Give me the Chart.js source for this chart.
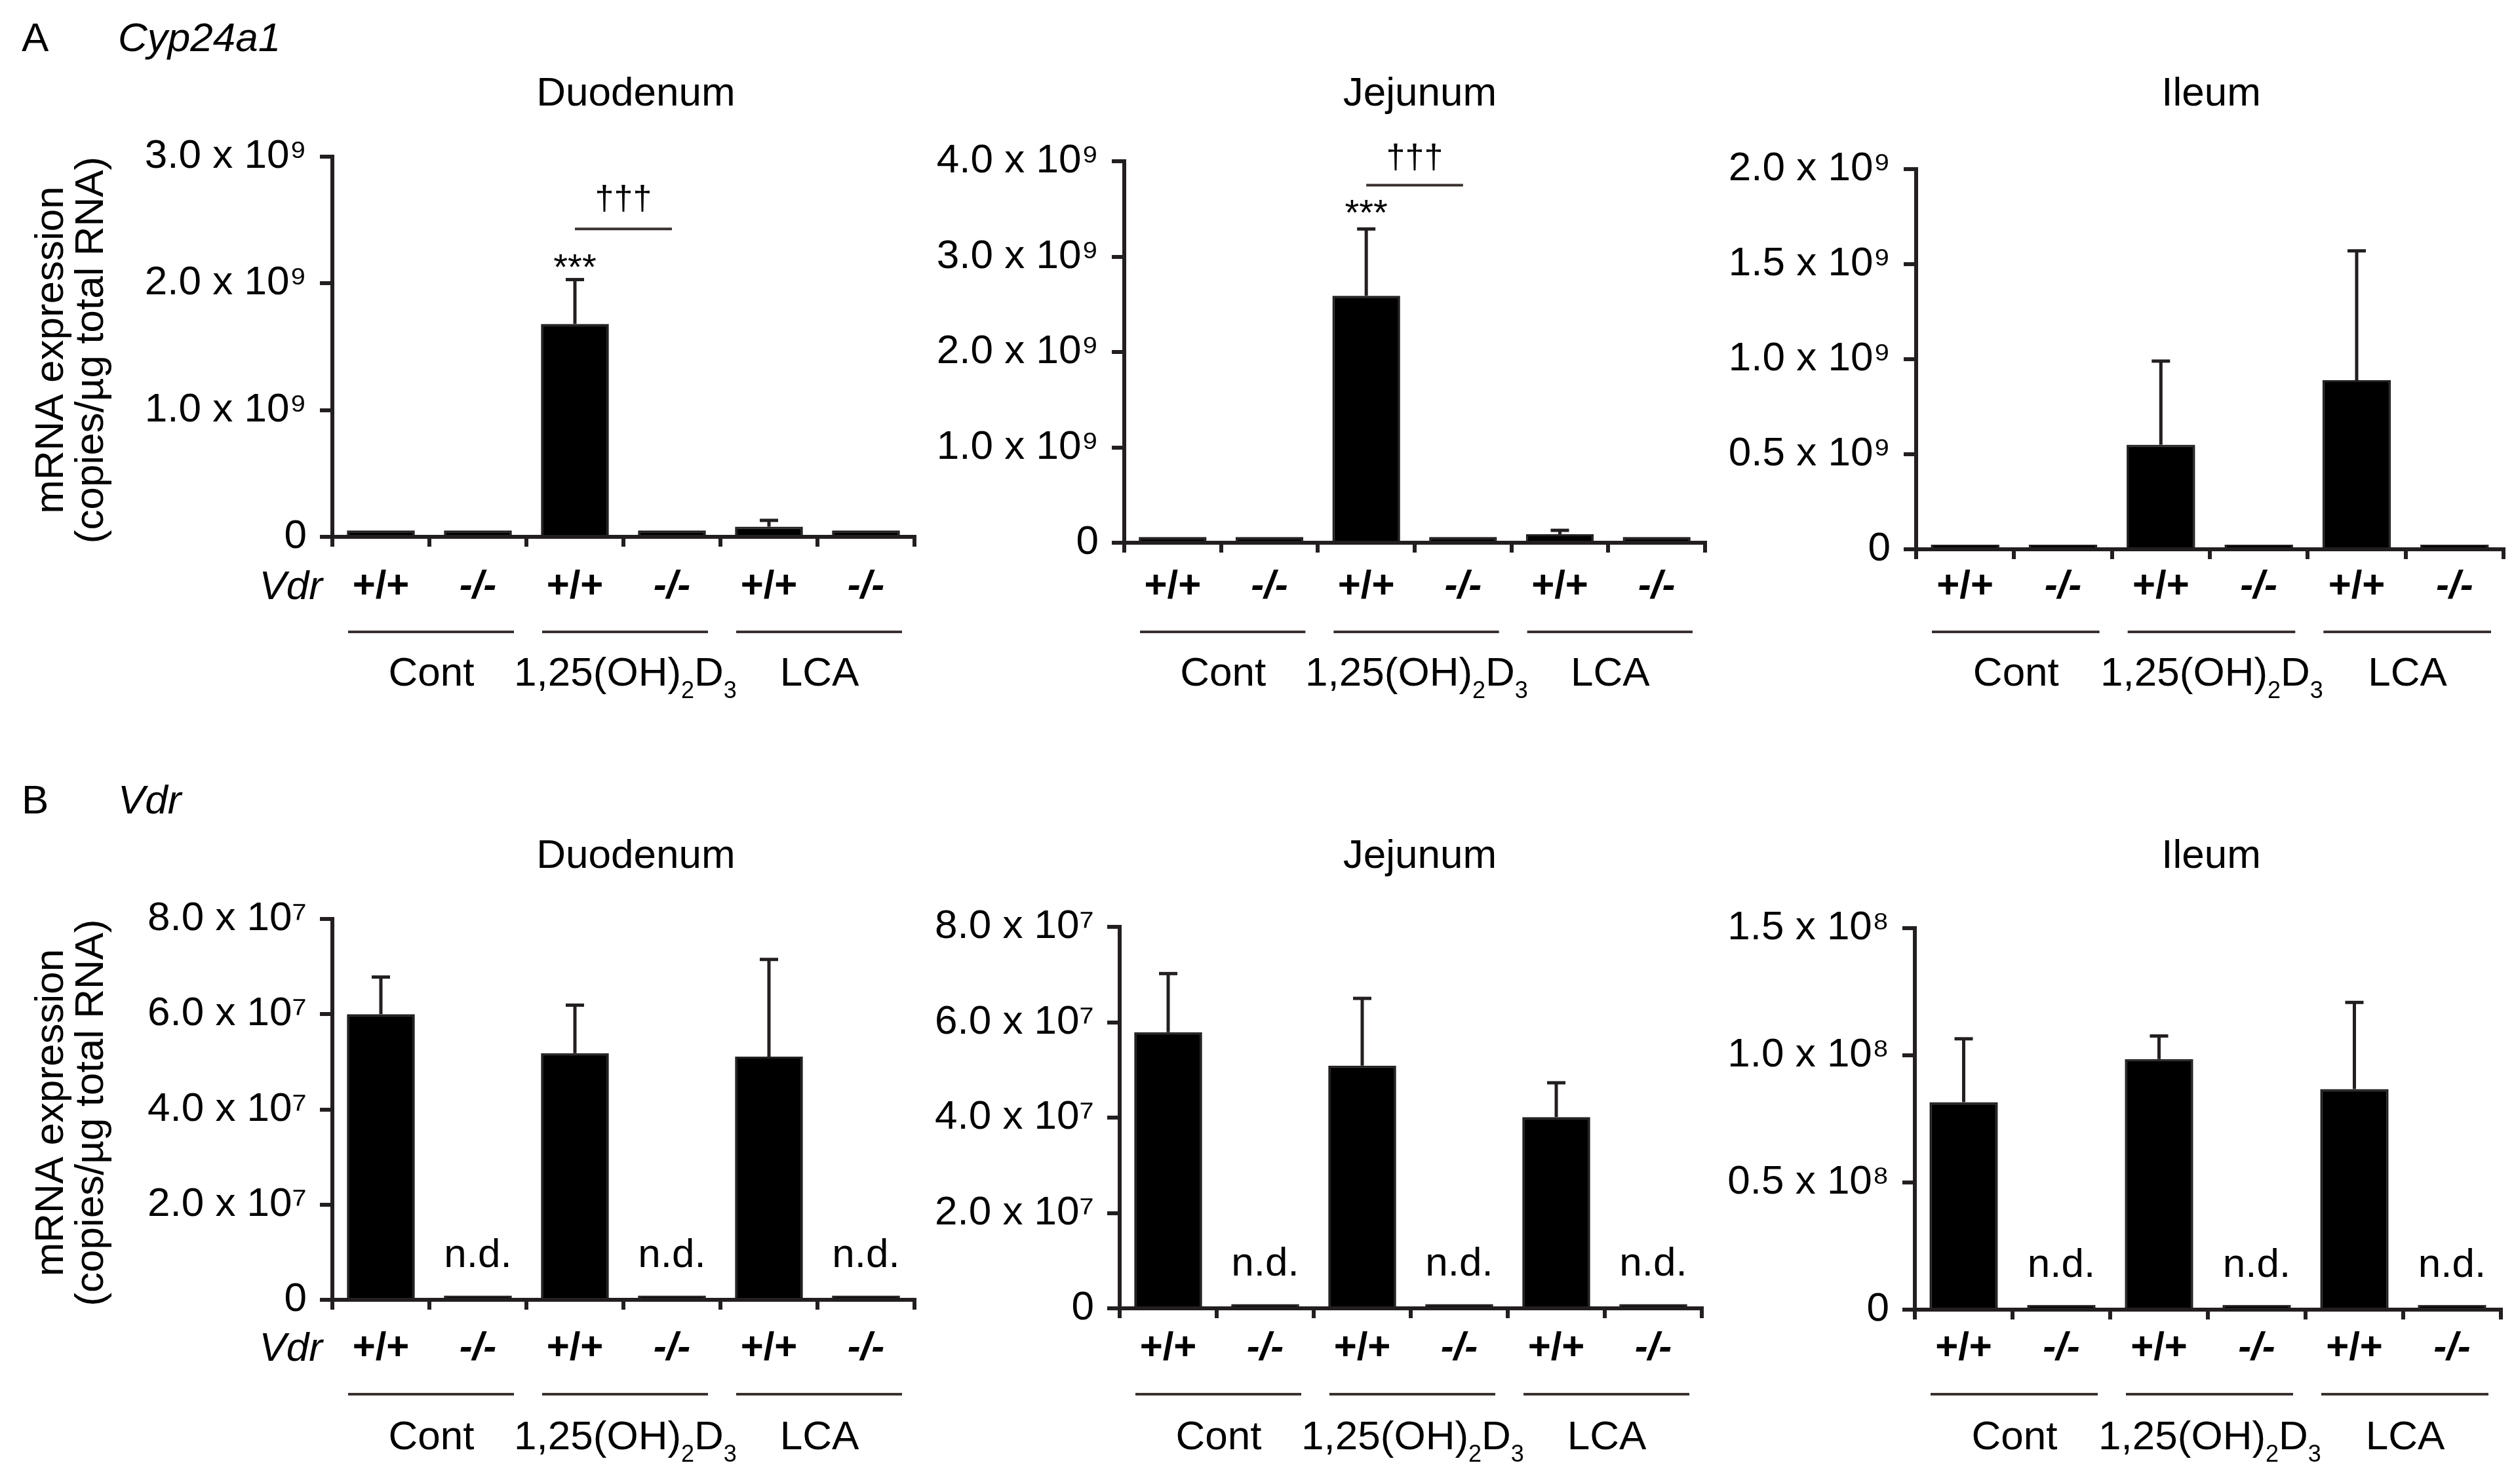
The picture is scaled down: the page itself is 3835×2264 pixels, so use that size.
<!DOCTYPE html>
<html><head><meta charset="utf-8">
<script src="https://cdn.jsdelivr.net/npm/chart.js@4.4.1/dist/chart.umd.min.js"></script>
<style>
html,body{margin:0;padding:0;background:#fff;}
body{width:3835px;height:2264px;position:relative;overflow:hidden;}
canvas{position:absolute;}
</style></head><body>
<script>
// ---------------- DATA ----------------
const categories = ['+/+', '-/-', '+/+', '-/-', '+/+', '-/-'];
const groups = ['Cont', '1,25(OH)₂D₃', 'LCA'];
const regions = ['Duodenum', 'Jejunum', 'Ileum'];
const panelLetters = ['A', 'B'];
const geneNames = ['Cyp24a1', 'Vdr'];
const yAxisTitle = ['mRNA expression', '(copies/µg total RNA)'];
const genotypeLabel = 'Vdr';
const ndLabel = 'n.d.';

// A: Cyp24a1
const cypDuoMean = [0.05e9, 0.05e9, 1.68e9, 0.05e9, 0.08e9, 0.05e9];
const cypDuoSem  = [0, 0, 0.35e9, 0, 0.05e9, 0];
const cypJejMean = [0.06e9, 0.06e9, 2.59e9, 0.06e9, 0.09e9, 0.06e9];
const cypJejSem  = [0, 0, 0.70e9, 0, 0.04e9, 0];
const cypIleMean = [0.024e9, 0.024e9, 0.55e9, 0.024e9, 0.89e9, 0.024e9];
const cypIleSem  = [0, 0, 0.44e9, 0, 0.68e9, 0];
// B: Vdr
const vdrDuoMean = [6.0e7, 0.09e7, 5.18e7, 0.09e7, 5.11e7, 0.09e7];
const vdrDuoSem  = [0.78e7, 0, 1.01e7, 0, 2.04e7, 0];
const vdrJejMean = [5.79e7, 0.09e7, 5.09e7, 0.09e7, 4.01e7, 0.09e7];
const vdrJejSem  = [1.23e7, 0, 1.41e7, 0, 0.72e7, 0];
const vdrIleMean = [0.816e8, 0.019e8, 0.985e8, 0.019e8, 0.867e8, 0.019e8];
const vdrIleSem  = [0.249e8, 0, 0.091e8, 0, 0.341e8, 0];

// tick values and labels
const cypDuoTickValues = [0, 1e9, 2e9, 3e9];
const cypDuoTicks = ['0', '1.0 x 10⁹', '2.0 x 10⁹', '3.0 x 10⁹'];
const cypJejTickValues = [0, 1e9, 2e9, 3e9, 4e9];
const cypJejTicks = ['0', '1.0 x 10⁹', '2.0 x 10⁹', '3.0 x 10⁹', '4.0 x 10⁹'];
const cypIleTickValues = [0, 0.5e9, 1.0e9, 1.5e9, 2.0e9];
const cypIleTicks = ['0', '0.5 x 10⁹', '1.0 x 10⁹', '1.5 x 10⁹', '2.0 x 10⁹'];
const vdrDuoTickValues = [0, 2e7, 4e7, 6e7, 8e7];
const vdrDuoTicks = ['0', '2.0 x 10⁷', '4.0 x 10⁷', '6.0 x 10⁷', '8.0 x 10⁷'];
const vdrJejTickValues = [0, 2e7, 4e7, 6e7, 8e7];
const vdrJejTicks = ['0', '2.0 x 10⁷', '4.0 x 10⁷', '6.0 x 10⁷', '8.0 x 10⁷'];
const vdrIleTickValues = [0, 0.5e8, 1.0e8, 1.5e8];
const vdrIleTicks = ['0', '0.5 x 10⁸', '1.0 x 10⁸', '1.5 x 10⁸'];

// significance marks (positions in data units)
const cypDuoStars = [{cat: 2, text: '***', value: 2.2e9}];
const cypDuoDaggers = [{from: 2, to: 3, text: '†††', line: 2.43e9, value: 2.66e9}];
const cypJejStars = [{cat: 2, text: '***', value: 3.55e9}];
const cypJejDaggers = [{from: 2, to: 3, text: '†††', line: 3.75e9, value: 4.03e9}];
const ndCategories = [1, 3, 5];

// ---------------- LAYOUT / STYLE ----------------
const FONT = '"Liberation Sans", Arial, Helvetica, sans-serif';
const INK = '#231f20';
const LINE_INK = '#3a302e';
const FS = 62;
const LPAD = 500, TPAD = 260, BPAD = 280, RPAD = 15;
// page-level rows (y positions shared by the three panels of each row)
const rowA = {title: 161, label: 897, line: 964, group: 1046, header: 78};
const rowB = {title: 1324, label: 2059, line: 2127, group: 2211, header: 1241};

const panels = [
  {mean: cypDuoMean, sem: cypDuoSem, tv: cypDuoTickValues, tl: cypDuoTicks, title: regions[0], row: rowA,
   box: [507, 1395, 239, 819], titleDx: 19, header: [panelLetters[0], geneNames[0]], yTitle: true, vdr: true,
   stars: cypDuoStars, daggers: cypDuoDaggers, nd: false},
  {mean: cypJejMean, sem: cypJejSem, tv: cypJejTickValues, tl: cypJejTicks, title: regions[1], row: rowA,
   box: [1715, 2601, 246, 828], titleDx: 8, stars: cypJejStars, daggers: cypJejDaggers, nd: false},
  {mean: cypIleMean, sem: cypIleSem, tv: cypIleTickValues, tl: cypIleTicks, title: regions[2], row: rowA,
   box: [2923, 3819, 258, 838], titleDx: 2, nd: false},
  {mean: vdrDuoMean, sem: vdrDuoSem, tv: vdrDuoTickValues, tl: vdrDuoTicks, title: regions[0], row: rowB,
   box: [507, 1395, 1402, 1983], titleDx: 19, header: [panelLetters[1], geneNames[1]], yTitle: true, vdr: true, nd: true},
  {mean: vdrJejMean, sem: vdrJejSem, tv: vdrJejTickValues, tl: vdrJejTicks, title: regions[1], row: rowB,
   box: [1708, 2596, 1414, 1996], titleDx: 14, nd: true},
  {mean: vdrIleMean, sem: vdrIleSem, tv: vdrIleTickValues, tl: vdrIleTicks, title: regions[2], row: rowB,
   box: [2921, 3815, 1416, 1998], titleDx: 5, nd: true}
];

function font(size, weight, style) {
  return (style || 'normal') + ' ' + (weight || 'normal') + ' ' + size + 'px ' + FONT;
}

function richText(ctx, str, x, y, size) {
  const subs = {'₂': '2', '₃': '3'};
  const parts = []; let cur = '';
  for (const ch of str) {
    if (subs[ch]) { if (cur) parts.push({t: cur, s: false}); cur = ''; parts.push({t: subs[ch], s: true}); }
    else cur += ch;
  }
  if (cur) parts.push({t: cur, s: false});
  let w = 0;
  parts.forEach(p => { ctx.font = font(p.s ? Math.round(size * 0.58) : size); p.w = ctx.measureText(p.t).width; w += p.w; });
  let sx = x - w / 2;
  ctx.textAlign = 'left';
  parts.forEach(p => {
    ctx.font = font(p.s ? Math.round(size * 0.58) : size);
    ctx.fillText(p.t, sx, p.s ? y + size * 0.3 : y);
    sx += p.w;
  });
}

const decor = {
  id: 'decor',
  afterDraw(chart, args, o) {
    const ctx = chart.ctx, xs = chart.scales.x, ys = chart.scales.y, ca = chart.chartArea;
    const ox = o.ox, oy = o.oy, row = o.row;
    ctx.save();
    ctx.fillStyle = '#000';
    ctx.textBaseline = 'alphabetic';
    // error bars
    ctx.strokeStyle = INK; ctx.lineWidth = 5; ctx.lineCap = 'butt';
    o.mean.forEach((m, i) => {
      const e = o.sem[i];
      if (!e) return;
      const x = xs.getPixelForValue(i);
      const y1 = ys.getPixelForValue(m), y2 = ys.getPixelForValue(m + e);
      ctx.beginPath(); ctx.moveTo(x, y1); ctx.lineTo(x, y2); ctx.stroke();
      ctx.beginPath(); ctx.moveTo(x - 14, y2); ctx.lineTo(x + 14, y2); ctx.stroke();
    });
    // title
    ctx.textAlign = 'center';
    ctx.font = font(FS);
    ctx.fillText(o.title, (ca.left + ca.right) / 2 + o.titleDx, row.title - oy);
    // group lines and labels
    const half = (xs.getPixelForValue(1) - xs.getPixelForValue(0)) / 2;
    ctx.strokeStyle = LINE_INK; ctx.lineWidth = 4;
    groups.forEach((g, gi) => {
      const xa = xs.getPixelForValue(2 * gi), xb = xs.getPixelForValue(2 * gi + 1);
      ctx.beginPath(); ctx.moveTo(xa - half + 24, row.line - oy); ctx.lineTo(xb + half - 19, row.line - oy); ctx.stroke();
      richText(ctx, g, (xa + xb) / 2 + 3, row.group - oy, FS);
    });
    // genotype label
    if (o.vdr) {
      ctx.textAlign = 'right'; ctx.font = font(FS, 'normal', 'italic');
      ctx.textBaseline = 'middle';
      ctx.fillText(genotypeLabel, ca.left - 15, row.label - oy);
      ctx.textBaseline = 'alphabetic';
    }
    // header
    if (o.header) {
      ctx.textAlign = 'left'; ctx.font = font(FS);
      ctx.fillText(o.header[0], 33 - ox, row.header - oy);
      ctx.font = font(FS, 'normal', 'italic');
      ctx.fillText(o.header[1], 180 - ox, row.header - oy);
    }
    // y axis title
    if (o.yTitle) {
      const cy = (ca.top + ca.bottom) / 2 + 5;
      ctx.font = font(FS); ctx.textAlign = 'center';
      ctx.save(); ctx.translate(96 - ox, cy); ctx.rotate(-Math.PI / 2); ctx.fillText(yAxisTitle[0], 0, 0); ctx.restore();
      ctx.save(); ctx.translate(157 - ox, cy); ctx.rotate(-Math.PI / 2); ctx.fillText(yAxisTitle[1], 0, 0); ctx.restore();
    }
    // stars
    (o.stars || []).forEach(s => {
      ctx.textAlign = 'center'; ctx.font = font(56);
      ctx.fillText(s.text, xs.getPixelForValue(s.cat), ys.getPixelForValue(s.value) + 56 * 0.57);
    });
    (o.daggers || []).forEach(d => {
      const xa = xs.getPixelForValue(d.from), xb = xs.getPixelForValue(d.to);
      const yl = ys.getPixelForValue(d.line);
      ctx.strokeStyle = LINE_INK; ctx.lineWidth = 4;
      ctx.beginPath(); ctx.moveTo(xa, yl); ctx.lineTo(xb, yl); ctx.stroke();
      ctx.textAlign = 'center'; ctx.font = font(52);
      ctx.fillText(d.text, (xa + xb) / 2, ys.getPixelForValue(d.value) + 52 * 0.3);
    });
    // n.d.
    if (o.nd) {
      ctx.textAlign = 'center'; ctx.font = font(FS);
      ndCategories.forEach(c => ctx.fillText(ndLabel, xs.getPixelForValue(c), ca.bottom - 50));
    }
    ctx.restore();
  }
};

panels.forEach((p) => {
  const [X0, X1, YT, YZ] = p.box;
  const ox = X0 - LPAD, oy = YT - TPAD;
  const W = LPAD + (X1 - X0) + RPAD, H = TPAD + (YZ - YT) + BPAD;
  const cv = document.createElement('canvas');
  cv.width = W; cv.height = H;
  cv.style.left = ox + 'px'; cv.style.top = oy + 'px';
  cv.style.width = W + 'px'; cv.style.height = H + 'px';
  document.body.appendChild(cv);
  const ymax = p.tv[p.tv.length - 1];
  const labelPad = 22 + (p.row.label - (YZ + 75));
  new Chart(cv, {
    type: 'bar',
    data: {
      labels: categories,
      datasets: [{
        data: p.mean,
        backgroundColor: '#000',
        borderColor: INK,
        borderWidth: 3,
        barPercentage: 0.7,
        categoryPercentage: 1.0
      }]
    },
    options: {
      responsive: false,
      animation: false,
      devicePixelRatio: 1,
      layout: {padding: {left: 0, right: RPAD, top: TPAD, bottom: 0}},
      plugins: {
        legend: {display: false},
        tooltip: {enabled: false},
        decor: Object.assign({ox: ox, oy: oy}, p)
      },
      scales: {
        x: {
          type: 'category',
          offset: true,
          grid: {offset: true, drawOnChartArea: false, drawTicks: true, tickLength: 15, lineWidth: 6, color: INK},
          border: {display: true, width: 6, color: INK},
          ticks: {
            autoSkip: false, maxRotation: 0, minRotation: 0, padding: labelPad, color: '#000',
            font: (c) => ({family: FONT, size: 60, weight: 'bold', style: (c.index % 2) ? 'italic' : 'normal'})
          },
          afterFit: (s) => { s.height = BPAD; }
        },
        y: {
          min: 0, max: ymax,
          grid: {drawOnChartArea: false, drawTicks: true, tickLength: 19, lineWidth: 6, color: INK},
          border: {display: true, width: 6, color: INK},
          afterBuildTicks: (s) => { s.ticks = p.tv.map(v => ({value: v})); },
          ticks: {
            padding: 20, color: '#000',
            font: {family: FONT, size: FS},
            callback: (v, i) => p.tl[i]
          },
          afterFit: (s) => { s.width = LPAD; }
        }
      }
    },
    plugins: [decor]
  });
});
</script>
</body></html>
